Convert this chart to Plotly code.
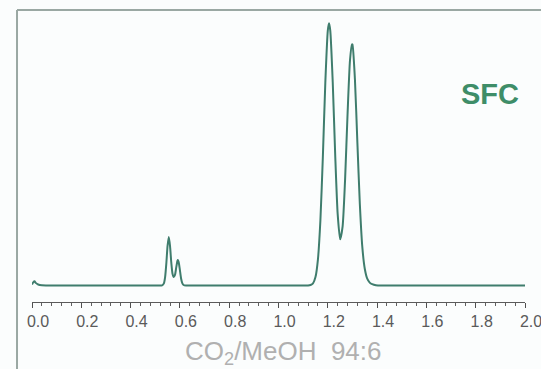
import plotly.graph_objects as go

# Retention time (min) and detector response (normalised) of the SFC trace
time_min = [
    0.000, 0.005, 0.010, 0.015, 0.025, 0.040, 0.10, 0.20, 0.30, 0.40, 0.50, 0.525,
    0.530, 0.535, 0.540, 0.545, 0.550, 0.555, 0.560, 0.565, 0.570, 0.575,
    0.580, 0.585, 0.590, 0.592, 0.595, 0.600, 0.605, 0.610, 0.615, 0.625,
    0.70, 0.80, 0.90, 1.00, 1.08, 1.12,
    1.130, 1.140, 1.150, 1.160, 1.170, 1.180, 1.190, 1.200, 1.205, 1.210,
    1.220, 1.230, 1.240, 1.250, 1.260, 1.270, 1.280, 1.290, 1.298, 1.300,
    1.310, 1.320, 1.330, 1.340, 1.350, 1.360, 1.370, 1.380, 1.395, 1.42,
    1.50, 1.60, 1.70, 1.80, 1.90, 2.00,
]
response = [
    0.004, 0.012, 0.016, 0.010, 0.004, 0.001, 0.000, 0.000, 0.000, 0.000, 0.000, 0.000,
    0.002, 0.008, 0.032, 0.085, 0.152, 0.185, 0.150, 0.088, 0.045, 0.032,
    0.040, 0.068, 0.094, 0.097, 0.090, 0.059, 0.026, 0.008, 0.002, 0.000,
    0.000, 0.000, 0.000, 0.000, 0.000, 0.000,
    0.002, 0.008, 0.032, 0.100, 0.249, 0.492, 0.775, 0.972, 1.000, 0.972,
    0.776, 0.498, 0.273, 0.176, 0.225, 0.402, 0.650, 0.859, 0.920, 0.919,
    0.787, 0.545, 0.310, 0.147, 0.064, 0.026, 0.011, 0.005, 0.001, 0.000,
    0.000, 0.000, 0.000, 0.000, 0.000, 0.000,
]

tick_vals = [0.0, 0.2, 0.4, 0.6, 0.8, 1.0, 1.2, 1.4, 1.6, 1.8, 2.0]
tick_text = ["0.0", "0.2", "0.4", "0.6", "0.8", "1.0", "1.2", "1.4", "1.6", "1.8", "2.0"]

trace_color = "#3f7d6d"
frame_color = "#9aa8a3"

fig = go.Figure()
fig.add_trace(go.Scatter(
    x=time_min, y=response, mode="lines",
    line=dict(color=trace_color, width=2, shape="spline", smoothing=0.6),
    hoverinfo="skip", showlegend=False,
))

fig.update_layout(
    width=541, height=369,
    margin=dict(l=32, r=16, t=10, b=67),
    paper_bgcolor="#fbfdfd", plot_bgcolor="rgba(0,0,0,0)",
    font=dict(family="Liberation Sans, Arial, sans-serif"),
    xaxis=dict(
        range=[0, 2], showgrid=False, zeroline=False, automargin=False,
        ticklabeloverflow="allow",
        showline=True, linecolor="#5a5a5a", linewidth=1.2,
        tickmode="array", tickvals=tick_vals, ticktext=tick_text,
        ticks="outside", ticklen=5, tickwidth=1.3, tickcolor="#4f4f4f",
        tickfont=dict(size=16, color="#5a5a5a"), ticklabelshift=6,
        minor=dict(dtick=0.04, ticks="outside", ticklen=3, tickwidth=1, tickcolor="#606060"),
        fixedrange=True,
    ),
    yaxis=dict(range=[-0.0629, 1.0507], visible=False, fixedrange=True, automargin=False),
    shapes=[
        # open frame: left and top borders
        dict(type="line", xref="paper", yref="paper", x0=-0.0304, x1=-0.0304, y0=1.0, y1=-0.24,
             line=dict(color=frame_color, width=2)),
        dict(type="line", xref="paper", yref="paper", x0=-0.0304, x1=1.04, y0=1.0, y1=1.0,
             line=dict(color=frame_color, width=2)),
    ],
    annotations=[
        dict(text="<b>SFC</b>", xref="paper", yref="paper", x=(490 - 32) / 493, y=(302 - 94) / 292,
             xanchor="center", yanchor="middle", showarrow=False,
             font=dict(size=29, color="#3e8d68")),
        dict(text="CO<sub>2</sub>/MeOH  94:6", xref="paper", yref="paper",
             x=(283 - 32) / 493, y=(302 - 352) / 292, xanchor="center", yanchor="middle",
             showarrow=False, font=dict(size=26, color="#b0b0b0")),
    ],
)

fig.write_html("out.html")
